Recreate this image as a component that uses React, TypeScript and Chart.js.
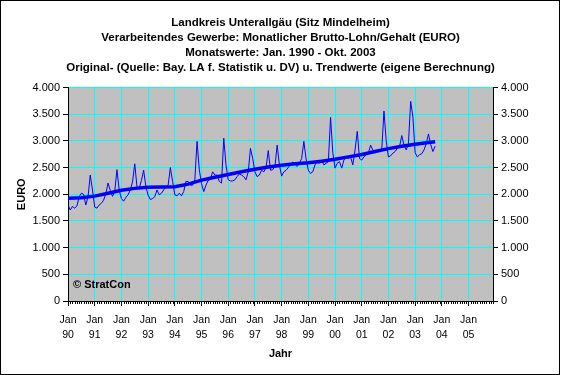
import React, { useEffect, useRef } from 'react';
import { Chart, registerables } from 'chart.js';

Chart.register(...registerables);

const titleLines = [
  'Landkreis Unterallgäu (Sitz Mindelheim)',
  'Verarbeitendes Gewerbe: Monatlicher Brutto-Lohn/Gehalt (EURO)',
  'Monatswerte: Jan. 1990 - Okt. 2003',
  'Original- (Quelle: Bay. LA f. Statistik u. DV) u. Trendwerte (eigene Berechnung)',
];
const yAxisTitle = 'EURO';
const xAxisTitle = 'Jahr';
const copyrightText = '© StratCon';

// x axis: months counted from Jan 1990
const yearTickMonths = [0, 12, 24, 36, 48, 60, 72, 84, 96, 108, 120, 132, 144, 156, 168, 180];
const yearTickLabels = ['90', '91', '92', '93', '94', '95', '96', '97', '98', '99', '00', '01', '02', '03', '04', '05'];
const monthTickLabel = 'Jan';
const axisLastMonth = 191;
const yMin = 0;
const yMax = 4000;
const yStep = 500;

// monthly values (EURO), Jan..Dec
const v1990 = [1800, 1705, 1770, 1740, 1780, 1950, 2020, 2000, 1800, 1950, 2360, 2080];
const v1991 = [1760, 1740, 1800, 1830, 1890, 2010, 2210, 2070, 1960, 2050, 2460, 2080];
const v1992 = [1920, 1870, 1940, 1990, 2080, 2230, 2570, 2140, 2110, 2260, 2450, 2140];
const v1993 = [1985, 1900, 1920, 1955, 2080, 1990, 2020, 2080, 2140, 2170, 2500, 2240];
const v1994 = [1990, 1970, 2020, 1970, 2050, 2240, 2240, 2170, 2170, 2270, 2990, 2460];
const v1995 = [2200, 2050, 2170, 2260, 2280, 2420, 2360, 2360, 2240, 2210, 3050, 2550];
const v1996 = [2270, 2250, 2250, 2270, 2330, 2380, 2360, 2330, 2270, 2420, 2860, 2670];
const v1997 = [2420, 2330, 2360, 2450, 2420, 2500, 2820, 2450, 2460, 2520, 2920, 2550];
const v1998 = [2340, 2420, 2450, 2500, 2560, 2600, 2560, 2520, 2580, 2670, 2990, 2660];
const v1999 = [2450, 2390, 2420, 2550, 2610, 2580, 2640, 2550, 2580, 2610, 3440, 2780];
const v2000 = [2490, 2580, 2610, 2490, 2640, 2700, 2670, 2700, 2550, 2830, 3180, 2670];
const v2001 = [2640, 2700, 2740, 2770, 2920, 2830, 2770, 2830, 2800, 2830, 3560, 3000];
const v2002 = [2700, 2720, 2770, 2800, 2860, 2890, 3100, 2920, 2830, 2950, 3740, 3450];
const v2003 = [2780, 2700, 2740, 2760, 2830, 2950, 3130, 2930, 2800, 2900];

const monthlyValues = [
  ...v1990, ...v1991, ...v1992, ...v1993, ...v1994, ...v1995, ...v1996,
  ...v1997, ...v1998, ...v1999, ...v2000, ...v2001, ...v2002, ...v2003,
];

// trend values (EURO) read at half-year steps
const trendMonths = [0, 6, 12, 18, 24, 30, 36, 42, 48, 54, 60, 66, 72, 78, 84, 90, 96, 102, 108, 114, 120, 126, 132, 138, 144, 150, 156, 162, 165];
const trendValues = [1925, 1935, 1965, 2020, 2075, 2110, 2130, 2135, 2140, 2190, 2265, 2320, 2370, 2420, 2470, 2510, 2545, 2570, 2590, 2620, 2655, 2700, 2745, 2800, 2855, 2900, 2935, 2970, 2985];

const FONT = '"Liberation Sans", Arial, sans-serif';

function fmtThousands(v: number): string {
  const n = Math.round(v);
  if (n >= 1000) {
    const th = Math.floor(n / 1000);
    const rest = String(n % 1000).padStart(3, '0');
    return `${th}.${rest}`;
  }
  return String(n);
}

const decorPlugin = {
  id: 'decor',
  beforeDraw(chart: any) {
    const { ctx, chartArea: a, width, height } = chart;
    ctx.save();
    ctx.fillStyle = '#ffffff';
    ctx.fillRect(0, 0, width, height);
    ctx.fillStyle = '#C0C0C0';
    ctx.fillRect(a.left, a.top, a.right - a.left, a.bottom - a.top);
    ctx.restore();
  },
  afterDraw(chart: any) {
    const { ctx, chartArea: a } = chart;
    const xs = chart.scales.x;
    ctx.save();
    // minor ticks on the x axis (monthly)
    ctx.strokeStyle = '#000';
    ctx.lineWidth = 1;
    ctx.beginPath();
    for (let m = 0; m <= axisLastMonth; m++) {
      if (m % 12 === 0) continue;
      const px = Math.round(xs.getPixelForValue(m)) + 0.5;
      ctx.moveTo(px, a.bottom + 1);
      ctx.lineTo(px, a.bottom + 3);
    }
    ctx.stroke();

    // copyright
    ctx.fillStyle = '#000';
    ctx.font = `bold 11px ${FONT}`;
    ctx.textAlign = 'left';
    ctx.textBaseline = 'middle';
    ctx.fillText(copyrightText, a.left + 5, a.bottom - 16);

    // x axis title
    ctx.textAlign = 'center';
    ctx.fillText(xAxisTitle, (a.left + a.right) / 2, 354);

    // y axis title
    ctx.translate(22, (a.top + a.bottom) / 2);
    ctx.rotate(-Math.PI / 2);
    ctx.fillText(yAxisTitle, 0, 0);
    ctx.restore();

    // outer frame
    ctx.save();
    ctx.strokeStyle = '#000';
    ctx.lineWidth = 1;
    ctx.strokeRect(0.5, 0.5, 559, 374);
    ctx.restore();
  },
};

export default function App() {
  const canvasRef = useRef<HTMLCanvasElement | null>(null);

  useEffect(() => {
    document.body.style.margin = '0';
    const canvas = canvasRef.current;
    if (!canvas) return;

    const monthlyPoints = monthlyValues.map((v, i) => ({ x: i, y: v }));
    const trendPoints = trendMonths.map((m, i) => ({ x: m, y: trendValues[i] }));

    const yTicks = {
      stepSize: yStep,
      callback: (v: any) => fmtThousands(Number(v)),
      font: { family: FONT, size: 11 },
      color: '#000',
      padding: 3,
    };

    const chart = new Chart(canvas, {
      type: 'line',
      data: {
        datasets: [
          {
            label: 'Trend',
            data: trendPoints,
            borderColor: '#0000FF',
            borderWidth: 3.5,
            pointRadius: 0,
            fill: false,
            tension: 0,
          },
          {
            label: 'Original',
            data: monthlyPoints,
            borderColor: '#0000FF',
            borderWidth: 1,
            pointRadius: 0,
            fill: false,
            tension: 0,
          },
        ],
      },
      options: {
        responsive: false,
        animation: false,
        devicePixelRatio: 1,
        layout: { padding: 0 },
        plugins: {
          legend: { display: false },
          tooltip: { enabled: false },
          title: {
            display: true,
            text: titleLines,
            color: '#000',
            font: { family: FONT, size: 11.5, weight: 'bold', lineHeight: '15px' },
            padding: { top: 15.5, bottom: 12 },
          },
        },
        scales: {
          x: {
            type: 'linear',
            min: 0,
            max: axisLastMonth,
            afterBuildTicks: (s: any) => {
              s.ticks = yearTickMonths.map((v) => ({ value: v }));
            },
            afterFit: (s: any) => {
              s.height = 74;
            },
            ticks: {
              autoSkip: false,
              maxRotation: 0,
              minRotation: 0,
              padding: 7,
              color: '#000',
              font: { family: FONT, size: 10.5, lineHeight: '15px' },
              callback: (_v: any, i: number) => [monthTickLabel, yearTickLabels[i]],
            },
            grid: { color: '#00FFFF', lineWidth: 1, tickColor: '#000', tickLength: 5 },
            border: { color: '#000', width: 1 },
          },
          y: {
            position: 'left',
            min: yMin,
            max: yMax,
            ticks: yTicks,
            afterFit: (s: any) => {
              s.width = 68;
            },
            grid: { color: '#00FFFF', lineWidth: 1, tickColor: '#000', tickLength: 5 },
            border: { color: '#000', width: 1 },
          },
          y2: {
            position: 'right',
            min: yMin,
            max: yMax,
            ticks: yTicks,
            afterFit: (s: any) => {
              s.width = 68;
            },
            grid: { drawOnChartArea: false, tickColor: '#000', tickLength: 5 },
            border: { color: '#000', width: 1 },
          },
        },
      } as any,
      plugins: [decorPlugin],
    });

    return () => {
      chart.destroy();
    };
  }, []);

  return (
    <div style={{ width: 561, height: 375 }}>
      <canvas ref={canvasRef} width={561} height={375} style={{ display: 'block' }} />
    </div>
  );
}
